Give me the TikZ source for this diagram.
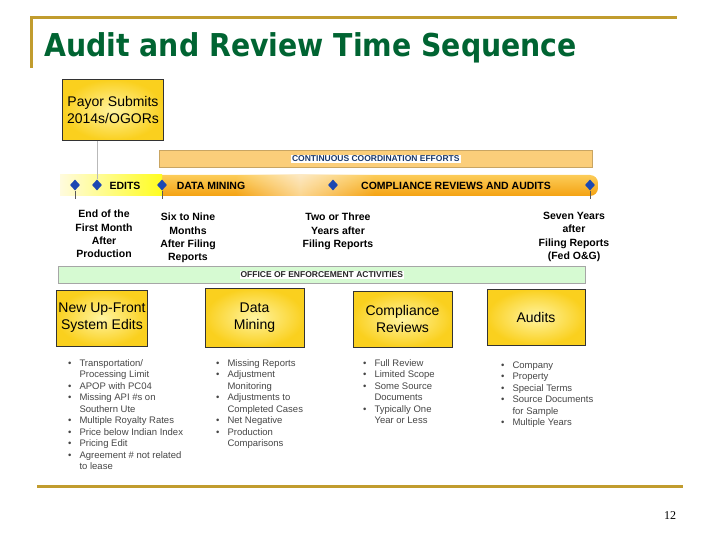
\documentclass[tikz,border=0pt]{standalone}
\usepackage{fontspec}
\setmainfont{Liberation Serif}
\setsansfont{Liberation Sans}
\newfontfamily\titlefont{DejaVu Sans}[FakeStretch=0.9]
\usetikzlibrary{positioning, shapes.geometric, fadings}
\definecolor{gold}{RGB}{193,156,46}
\definecolor{heading}{RGB}{0,100,50}
\definecolor{sun}{RGB}{250,208,30}
\definecolor{sunlight}{RGB}{255,244,160}
\definecolor{amber}{RGB}{248,178,40}
\definecolor{amberdeep}{RGB}{244,162,18}
\definecolor{amberlight}{RGB}{252,204,88}
\definecolor{peach}{RGB}{251,206,122}
\definecolor{mint}{RGB}{214,250,210}
\definecolor{gem}{RGB}{28,72,178}
\definecolor{ink}{RGB}{25,55,105}
\definecolor{lead}{RGB}{70,70,70}

\begin{document}
\begin{tikzpicture}[x=1pt, y=-1pt,
    yellowbox/.style={
        rectangle, draw=black!80, line width=0.6pt,
        inner color=sunlight, outer color=sun,
        font=\sffamily\fontsize{14}{17}\selectfont, align=center,
        inner sep=2pt,
    },
    band/.style={rectangle, line width=0.6pt, minimum height=17pt, inner sep=0pt},
    bandlabel/.style={fill=white, inner sep=1pt, text=ink,
        font=\sffamily\bfseries\fontsize{8.5}{10}\selectfont},
    stamp/.style={diamond, fill=gem, inner sep=0pt,
        minimum width=10pt, minimum height=11pt},
    phase/.style={font=\sffamily\bfseries\fontsize{10.5}{12}\selectfont},
    when/.style={font=\sffamily\bfseries\fontsize{10.5}{13.3}\selectfont,
        align=center, anchor=north, inner sep=0pt},
    listing/.style={anchor=north west, inner sep=0pt, text=lead,
        font=\sffamily\fontsize{9.5}{11.5}\selectfont},
    tick/.style={draw=gray!70!black, line width=0.6pt},
]
\useasboundingbox (0,0) rectangle (720,540);

% --- Frame and title ---
\draw[gold, line width=3pt] (31,68) -- (31,18) -- (677,18);
\draw[gold, line width=3pt] (37,486) -- (683,486);
\node[anchor=base west, inner sep=0pt, text=heading,
      font=\titlefont\bfseries\fontsize{31.5}{36}\selectfont] (title) at (44,57)
    {Audit and Review Time Sequence};
\node[font=\rmfamily\fontsize{12}{14}\selectfont] (page) at (670,516) {12};

% --- Payor box ---
\node[yellowbox, minimum width=101pt, minimum height=61pt] (payor) at (113,110)
    {Payor Submits\\2014s/OGORs};

% --- Coordination band ---
\node[band, fill=peach, draw=peach!80!black, minimum width=433pt,
      anchor=north west] (coord) at (159,150) {};
\node[bandlabel] (coordlabel) at (coord.center) {CONTINUOUS COORDINATION EFFORTS};

% --- Time line bar ---
\shade[top color=amberlight, bottom color=amberdeep, rounded corners=8pt]
    (60,175) rectangle (598,196);
\shade[left color=sunlight!35!white, right color=yellow!80!sunlight] (60,175) rectangle (162,196);
\shade[top color=peach!45!white, bottom color=peach!85!white, path fading=west]
    (235,175) rectangle (300,196);
\shade[top color=peach!45!white, bottom color=peach!85!white, path fading=east]
    (300,175) rectangle (375,196);

\node[stamp] (d1) at (75,185) {};
\node[stamp] (d2) at (97,185) {};
\node[stamp] (d3) at (162,185) {};
\node[stamp] (d4) at (333,185) {};
\node[stamp] (d5) at (590,185) {};
\draw[tick] (d1.south) -- ++(0,8);
\draw[tick] (d3.south) -- ++(0,8);
\draw[tick] (d5.south) -- ++(0,8);
\draw[gray!55, line width=1pt] (payor.south -| d2) -- (d2.north);

\node[phase] (edits) at (125,186) {EDITS};
\node[phase] (mining) at (211,186) {DATA MINING};
\node[phase] (reviews) at (456,186) {COMPLIANCE REVIEWS AND AUDITS};

% --- When each step happens ---
\node[when] (t1) at (104,210) {End of the\\First Month\\After\\Production};
\node[when] (t2) at (188,213) {Six to Nine\\Months\\After Filing\\Reports};
\node[when] (t3) at (338,213) {Two or Three\\Years after\\Filing Reports};
\node[when] (t4) at (574,212) {Seven Years\\after\\Filing Reports\\(Fed O\&G)};

% --- Enforcement band ---
\node[band, fill=mint, draw=gray!70, minimum width=527pt,
      anchor=north west] (office) at (58,266) {};
\node[bandlabel, text=black!85] (officelabel) at (office.center)
    {OFFICE OF ENFORCEMENT ACTIVITIES};

% --- Activity boxes ---
\node[yellowbox, minimum width=90pt, minimum height=56pt] (upfront) at (102,318)
    {New Up-Front\\System Edits};
\node[yellowbox, minimum width=99pt, minimum height=59pt] (datamining) at (254.5,317.5)
    {Data\\Mining};
\node[yellowbox, minimum width=99pt, minimum height=56pt] (compliance) at (402.5,319)
    {Compliance\\Reviews};
\node[yellowbox, minimum width=98pt, minimum height=56pt] (audits) at (536,317)
    {Audits};

% --- Bullet lists ---
\node[listing] (list1) at (68,358) {\begin{tabular}{@{}c@{\hspace{8pt}}l@{}}
    \textbullet & Transportation/\\
                & Processing Limit\\
    \textbullet & APOP with PC04\\
    \textbullet & Missing API \#s on\\
                & Southern Ute\\
    \textbullet & Multiple Royalty Rates\\
    \textbullet & Price below Indian Index\\
    \textbullet & Pricing Edit\\
    \textbullet & Agreement \# not related\\
                & to lease
\end{tabular}};
\node[listing] (list2) at (216,358) {\begin{tabular}{@{}c@{\hspace{8pt}}l@{}}
    \textbullet & Missing Reports\\
    \textbullet & Adjustment\\
                & Monitoring\\
    \textbullet & Adjustments to\\
                & Completed Cases\\
    \textbullet & Net Negative\\
    \textbullet & Production\\
                & Comparisons
\end{tabular}};
\node[listing] (list3) at (363,358) {\begin{tabular}{@{}c@{\hspace{8pt}}l@{}}
    \textbullet & Full Review\\
    \textbullet & Limited Scope\\
    \textbullet & Some Source\\
                & Documents\\
    \textbullet & Typically One\\
                & Year or Less
\end{tabular}};
\node[listing] (list4) at (501,360) {\begin{tabular}{@{}c@{\hspace{8pt}}l@{}}
    \textbullet & Company\\
    \textbullet & Property\\
    \textbullet & Special Terms\\
    \textbullet & Source Documents\\
                & for Sample\\
    \textbullet & Multiple Years
\end{tabular}};

\end{tikzpicture}
\end{document}
